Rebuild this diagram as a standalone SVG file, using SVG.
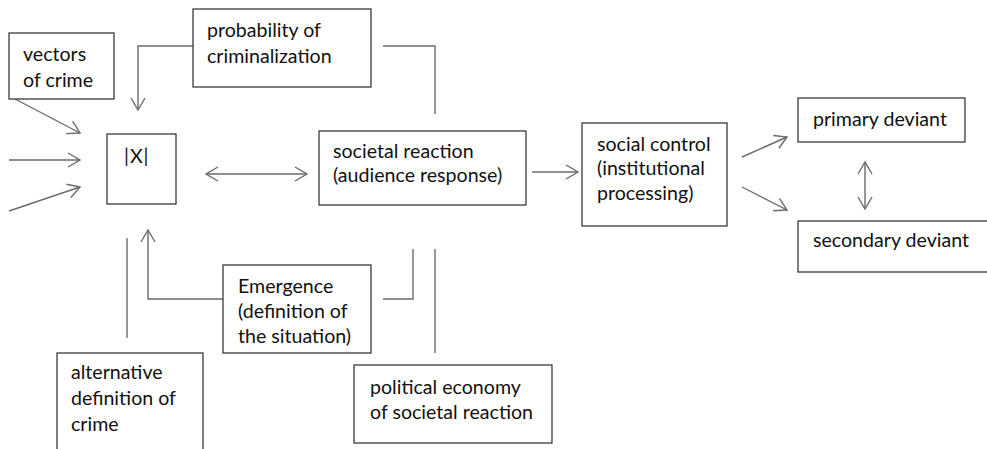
<svg xmlns="http://www.w3.org/2000/svg" width="987" height="449" viewBox="0 0 987 449">
<style>
.box{fill:#fff;stroke:#3a3a3a;stroke-width:1.3}
.ln{fill:none;stroke:#6b6b6b;stroke-width:1.4}
.t{font-family:Lato,"Open Sans","Liberation Sans",sans-serif;font-size:19.6px;fill:#111}
</style>
<defs>
<marker id="ah" viewBox="0 0 14 16" refX="13" refY="8" markerWidth="14" markerHeight="16" markerUnits="userSpaceOnUse" orient="auto-start-reverse">
<path d="M1,1 L13,8 L1,15" fill="none" stroke="#6b6b6b" stroke-width="1.4"/>
</marker>
</defs>
<rect width="987" height="449" fill="#fff"/>
<g id="connectors">
<line class="ln" x1="15" y1="99" x2="80" y2="133" marker-end="url(#ah)"/>
<line class="ln" x1="9" y1="160" x2="80" y2="160" marker-end="url(#ah)"/>
<line class="ln" x1="9" y1="211" x2="80" y2="187" marker-end="url(#ah)"/>
<polyline class="ln" points="193,46 138,46 138,110" marker-end="url(#ah)"/>
<polyline class="ln" points="383,46 435,46 435,114"/>
<line class="ln" x1="206" y1="174" x2="307" y2="174" marker-start="url(#ah)" marker-end="url(#ah)"/>
<line class="ln" x1="532" y1="172" x2="578" y2="172" marker-end="url(#ah)"/>
<line class="ln" x1="742" y1="157" x2="787" y2="137" marker-end="url(#ah)"/>
<line class="ln" x1="742" y1="187" x2="787" y2="210" marker-end="url(#ah)"/>
<line class="ln" x1="865" y1="162" x2="865" y2="209" marker-start="url(#ah)" marker-end="url(#ah)"/>
<line class="ln" x1="127" y1="238" x2="127" y2="338"/>
<polyline class="ln" points="224,299 148,299 148,230" marker-end="url(#ah)"/>
<polyline class="ln" points="383,299 413,299 413,249"/>
<line class="ln" x1="435" y1="249" x2="435" y2="353"/>
</g>
<g id="vectors">
<rect class="box" x="9" y="33" width="105" height="66"/>
<text class="t" x="23" y="61">vectors</text>
<text class="t" x="23" y="87">of crime</text>
</g>
<g id="probability">
<rect class="box" x="193" y="9" width="178" height="78"/>
<text class="t" x="207" y="37">probability of</text>
<text class="t" x="207" y="63">criminalization</text>
</g>
<g id="x">
<rect class="box" x="107" y="134" width="69" height="70"/>
<text class="t" x="124" y="163" letter-spacing="1">|X|</text>
</g>
<g id="societal">
<rect class="box" x="319" y="131" width="207" height="74"/>
<text class="t" x="333" y="158">societal reaction</text>
<text class="t" x="333" y="182">(audience response)</text>
</g>
<g id="social">
<rect class="box" x="582" y="123" width="145" height="103"/>
<text class="t" x="597" y="151">social control</text>
<text class="t" x="597" y="175">(institutional</text>
<text class="t" x="597" y="200">processing)</text>
</g>
<g id="primary">
<rect class="box" x="798" y="98" width="167" height="44"/>
<text class="t" x="813" y="126">primary deviant</text>
</g>
<g id="secondary">
<rect class="box" x="798" y="221" width="200" height="51"/>
<text class="t" x="813" y="247">secondary deviant</text>
</g>
<g id="emergence">
<rect class="box" x="223" y="265" width="148" height="88"/>
<text class="t" x="238" y="293">Emergence</text>
<text class="t" x="238" y="318">(definition of</text>
<text class="t" x="238" y="343">the situation)</text>
</g>
<g id="alternative">
<rect class="box" x="57" y="353" width="146" height="110"/>
<text class="t" x="71" y="379">alternative</text>
<text class="t" x="71" y="405">definition of</text>
<text class="t" x="71" y="431">crime</text>
</g>
<g id="political">
<rect class="box" x="354" y="365" width="198" height="78"/>
<text class="t" x="370" y="394">political economy</text>
<text class="t" x="370" y="419">of societal reaction</text>
</g>
</svg>
